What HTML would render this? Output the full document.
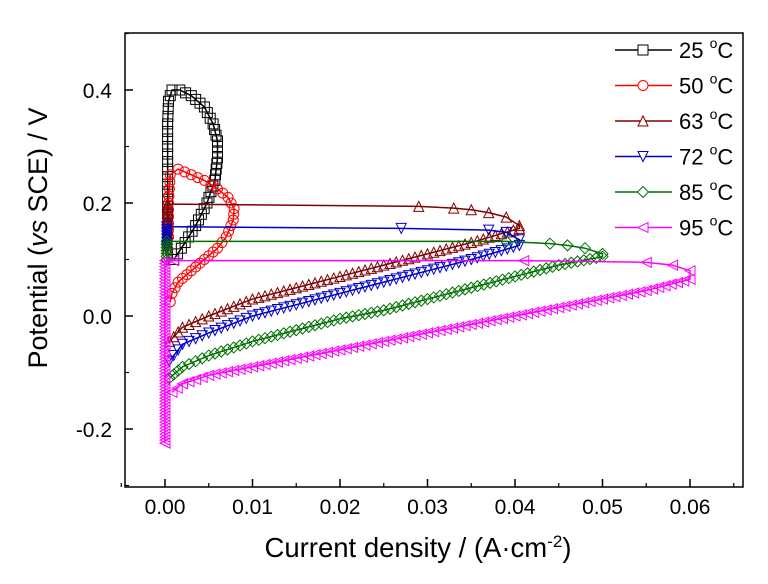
<!DOCTYPE html>
<html><head><meta charset="utf-8"><style>
body{margin:0;background:#fff}
svg text{font-family:"Liberation Sans",Arial,sans-serif}
</style></head><body>
<svg id="c" width="768" height="579" xmlns="http://www.w3.org/2000/svg">
<rect x="0" y="0" width="768" height="579" fill="#fff"/>
<g id="plot"></g>
<rect x="125" y="33" width="618" height="454" fill="none" stroke="#000" stroke-width="1.5"/>
<g id="axes"></g>
<text x="0" y="0" transform="translate(47,238) rotate(-90)" text-anchor="middle" font-size="27">Potential (<tspan font-style="italic">vs</tspan> SCE) / V</text>
<text x="418" y="557" text-anchor="middle" font-size="27.5">Current density / (A·cm<tspan dy="-10" font-size="17">-2</tspan><tspan dy="10">)</tspan></text>
<g id="legend"></g>
</svg>
<script>
const xTicks=[0,0.01,0.02,0.03,0.04,0.05,0.06];
const xTickLabels=["0.00","0.01","0.02","0.03","0.04","0.05","0.06"];
const yTicks=[-0.2,0,0.2,0.4];
const yTickLabels=["-0.2","0.0","0.2","0.4"];
const seriesNames=["25 °C","50 °C","63 °C","72 °C","85 °C","95 °C"];
const s25=[[0.001,0.10],[0.0023,0.13],[0.0035,0.16],[0.0048,0.20],[0.0057,0.24],[0.006,0.28],[0.006,0.31],[0.0055,0.34],[0.0045,0.37],[0.003,0.39],[0.0017,0.40],[0.0008,0.40],[0.0004,0.38],[0.0003,0.34],[0.0003,0.30],[0.0003,0.26],[0.0003,0.22],[0.0003,0.18]];
const s50=[[0.0006,0.025],[0.0008,0.04],[0.0015,0.06],[0.003,0.08],[0.0045,0.10],[0.006,0.12],[0.007,0.14],[0.0078,0.17],[0.0079,0.19],[0.0072,0.21],[0.006,0.225],[0.0045,0.24],[0.003,0.25],[0.0015,0.26],[0.0006,0.25],[0.0004,0.20],[0.0004,0.14]];
const s63=[[0.0005,-0.045],[0.002,-0.02],[0.005,0.0],[0.01,0.03],[0.015,0.05],[0.02,0.07],[0.025,0.09],[0.03,0.11],[0.035,0.13],[0.0405,0.155]];
const p63=[[0.0405,0.16],[0.039,0.175],[0.037,0.183],[0.035,0.188],[0.033,0.191],[0.029,0.194],[0.001,0.198],[0.0003,0.198],[0.0003,0.12]];
const s72=[[0.0005,-0.08],[0.002,-0.05],[0.005,-0.03],[0.01,0.0],[0.015,0.02],[0.02,0.04],[0.025,0.06],[0.03,0.08],[0.035,0.10],[0.0405,0.125]];
const p72=[[0.0405,0.135],[0.039,0.148],[0.037,0.152],[0.027,0.155],[0.001,0.158],[0.0002,0.158],[0.0002,0.12]];
const s85=[[0.0005,-0.11],[0.002,-0.09],[0.005,-0.07],[0.01,-0.045],[0.015,-0.025],[0.02,-0.005],[0.025,0.01],[0.03,0.03],[0.035,0.05],[0.04,0.07],[0.045,0.09],[0.05,0.105]];
const p85=[[0.05,0.11],[0.048,0.12],[0.046,0.125],[0.044,0.128],[0.039,0.132],[0.001,0.132],[0.0002,0.132],[0.0002,0.10]];
const s95=[[0.0008,-0.135],[0.002,-0.12],[0.005,-0.105],[0.01,-0.09],[0.015,-0.075],[0.02,-0.06],[0.025,-0.045],[0.03,-0.03],[0.035,-0.015],[0.04,0.0],[0.045,0.015],[0.05,0.03],[0.055,0.045],[0.06,0.065]];
const p95=[[0.06,0.08],[0.058,0.09],[0.055,0.095],[0.041,0.098],[0.001,0.098],[0.0,0.098],[0.0,-0.225]];

const X=v=>165+v*8750, Y=v=>316-v*565;
const NS="http://www.w3.org/2000/svg";
const plot=document.getElementById('plot'),axes=document.getElementById('axes'),leg=document.getElementById('legend');
function mk(t,a,p){const e=document.createElementNS(NS,t);for(const k in a)e.setAttribute(k,a[k]);p.appendChild(e);return e;}
function marker(type,x,y,col,p){const r=5;let e;
 if(type==='sq')e=mk('rect',{x:x-r,y:y-r,width:2*r,height:2*r},p);
 else if(type==='ci')e=mk('circle',{cx:x,cy:y,r:r},p);
 else{let pts;
  if(type==='up')pts=[[x,y-r],[x+r,y+r],[x-r,y+r]];
  if(type==='dn')pts=[[x,y+r],[x+r,y-r],[x-r,y-r]];
  if(type==='di')pts=[[x,y-r*1.1],[x+r*1.1,y],[x,y+r*1.1],[x-r*1.1,y]];
  if(type==='lt')pts=[[x-r,y],[x+r,y-r],[x+r,y+r]];
  e=mk('polygon',{points:pts.map(q=>q.join(',')).join(' ')},p);}
 e.setAttribute('fill','none');e.setAttribute('stroke',col);e.setAttribute('stroke-width','1');return e;}
const series=[
 {d:s25,p:[],col:'#000000',m:'sq'},{d:s50,p:[],col:'#ff0000',m:'ci'},
 {d:s63,p:p63,col:'#800000',m:'up'},{d:s72,p:p72,col:'#0000cc',m:'dn'},
 {d:s85,p:p85,col:'#007000',m:'di'},{d:s95,p:p95,col:'#ff00ff',m:'lt'}];
series.forEach((s,i)=>{
 const g=mk('g',{},plot);
 
 
 const all=s.d.concat(s.p);
 const pl=mk('polyline',{points:all.map(q=>X(q[0])+','+Y(q[1])).join(' '),fill:'none',stroke:s.col,'stroke-width':1.5},g);
 
 
 for(let j=0;j<s.d.length-1;j++){
  const x1=X(s.d[j][0]),y1=Y(s.d[j][1]),x2=X(s.d[j+1][0]),y2=Y(s.d[j+1][1]);
  const L=Math.hypot(x2-x1,y2-y1),n=Math.max(1,Math.round(L/6.5));
  for(let k=0;k<n;k++){const t=k/n;marker(s.m,x1+(x2-x1)*t,y1+(y2-y1)*t,s.col,g);}
 }
 if(s.d.length){const q=s.d[s.d.length-1];marker(s.m,X(q[0]),Y(q[1]),s.col,g);}
 s.p.forEach((q,j)=>{if(j<s.p.length-3||s.m==='lt')marker(s.m,X(q[0]),Y(q[1]),s.col,g);});
 if(s.p.length){const a=s.p[s.p.length-2],b=s.p[s.p.length-1];
  const y1=Y(a[1]),y2=Y(b[1]),n=Math.round(Math.abs(y2-y1)/3);
  for(let k=0;k<=n;k++)marker(s.m,X(a[0]),y1+(y2-y1)*k/n,s.col,g);}
 const ly=50+i*35.5;
 const lg=mk('g',{},leg);
 
 
 mk('line',{x1:615,y1:ly,x2:672,y2:ly,stroke:s.col,'stroke-width':1.5},lg);
 const lm=marker(s.m,643,ly,s.col,lg);lm.setAttribute('fill','#fff');
 const t=mk('text',{x:679,y:ly+8,'font-size':22},lg);
 const num=seriesNames[i].split(' ')[0];
 t.innerHTML=num+' <tspan dy="-10" font-size="14">o</tspan><tspan dy="10">C</tspan>';
});
xTicks.forEach((v,i)=>{const x=X(v);
 mk('line',{x1:x,y1:487,x2:x,y2:479,stroke:'#000','stroke-width':1.5},axes);
 mk('line',{x1:x+43.75,y1:487,x2:x+43.75,y2:483,stroke:'#000','stroke-width':1.2},axes);
 const t=mk('text',{x:x,y:514,'text-anchor':'middle','font-size':21},axes);t.textContent=xTickLabels[i];
 
 });
mk('line',{x1:X(0)-43.75,y1:487,x2:X(0)-43.75,y2:483,stroke:'#000','stroke-width':1.2},axes);
yTicks.forEach((v,i)=>{const y=Y(v);
 mk('line',{x1:125,y1:y,x2:133,y2:y,stroke:'#000','stroke-width':1.5},axes);
 mk('line',{x1:125,y1:y-56.5,x2:129,y2:y-56.5,stroke:'#000','stroke-width':1.2},axes);
 const t=mk('text',{x:112,y:y+8,'text-anchor':'end','font-size':21},axes);t.textContent=yTickLabels[i];
 
 });
mk('line',{x1:125,y1:Y(-0.2)+56.5,x2:129,y2:Y(-0.2)+56.5,stroke:'#000','stroke-width':1.2},axes);
</script>
</body></html>
